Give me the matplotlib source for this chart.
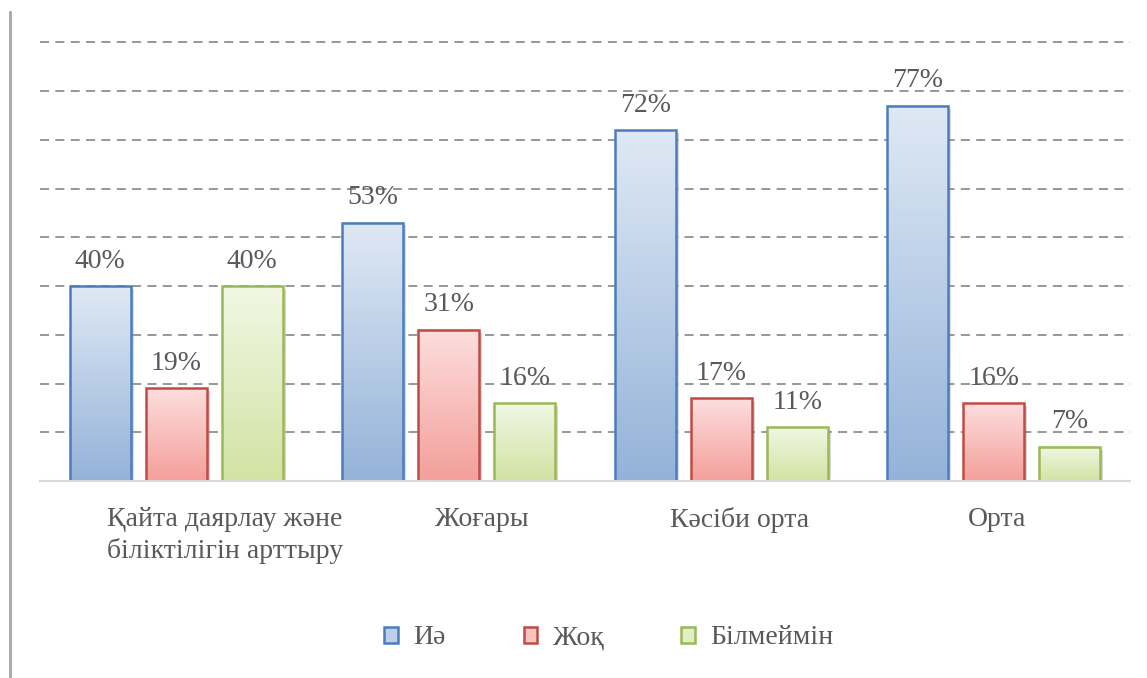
import matplotlib.pyplot as plt
import matplotlib.patheffects as pe
from matplotlib.colors import LinearSegmentedColormap
from matplotlib.lines import Line2D
from matplotlib.patches import Patch
import numpy as np

plt.rcParams['font.family'] = ['Liberation Serif', 'DejaVu Serif']

categories = ["Қайта даярлау және\nбіліктілігін арттыру", "Жоғары", "Кәсіби орта", "Орта"]
series_names = ["Иә", "Жоқ", "Білмеймін"]
yes_vals = [40, 53, 72, 77]
no_vals = [19, 31, 17, 16]
dont_know_vals = [40, 16, 11, 7]

# (top colour, bottom colour, edge colour)
styles = [
    ("#dfe9f5", "#94b2d9", "#4a7ebb"),
    ("#fcdedd", "#f49f9b", "#be4b48"),
    ("#f1f7e4", "#d2e3a3", "#98b954"),
]
text_col = "#595959"

fig = plt.figure(figsize=(11.47, 6.78), dpi=100)
ax = fig.add_axes([40 / 1147, 197 / 678, 1090 / 1147, 463 / 678])

x = np.arange(len(categories))
width = 0.224
step = 0.279
grad = np.linspace(0, 1, 256).reshape(-1, 1)

cmaps = []
for k, vals in enumerate([yes_vals, no_vals, dont_know_vals]):
    top, bottom, edge = styles[k]
    cmap = LinearSegmentedColormap.from_list(f"g{k}", [bottom, top])
    cmaps.append(cmap)
    xs = x + (k - 1) * step
    ax.bar(xs, vals, width, color="white", edgecolor="none", zorder=2,
           path_effects=[pe.SimplePatchShadow(offset=(2, -2), shadow_rgbFace="gray", alpha=0.3), pe.Normal()])
    for xi, v in zip(xs, vals):
        ax.imshow(grad, cmap=cmap, origin="lower", aspect="auto", zorder=3,
                  extent=(xi - width / 2, xi + width / 2, 0, v))
        ax.annotate(f"{v}%", (xi, v), xytext=(0, 9), textcoords="offset points",
                    ha="center", va="bottom", fontsize=20, color=text_col)
    ax.bar(xs, vals, width, facecolor="none", edgecolor=edge, linewidth=1.8, zorder=4)

ax.set_xlim(-0.5, 3.5)
ax.set_ylim(0, 95)
ax.set_yticks(range(10, 100, 10))
ax.yaxis.grid(True, linestyle=(0, (5, 3.5)), color="#8f8f8f", linewidth=1.3, zorder=0)
ax.set_axisbelow(True)
ax.tick_params(axis="y", left=False, labelleft=False)

label_x = 0.179 + 0.944 * x
ax.set_xticks(label_x)
ax.set_xticklabels(categories, fontsize=20, color=text_col, linespacing=1.3)
ax.tick_params(axis="x", bottom=False, pad=15)

for s in ["top", "right", "left"]:
    ax.spines[s].set_visible(False)
ax.spines["bottom"].set_color("#d9d9d9")
ax.spines["bottom"].set_linewidth(1.5)
ax.spines["bottom"].set_zorder(5)

handles = [Patch(facecolor=cmaps[i](0.55), edgecolor=s[2], linewidth=1.8) for i, s in enumerate(styles)]
fig.legend(handles, series_names, loc="center", bbox_to_anchor=(609 / 1147, 1 - 638 / 678),
           ncol=3, frameon=False, fontsize=20, handlelength=0.5, handleheight=0.5,
           handletextpad=0.55, columnspacing=2.8, labelcolor=text_col)

fig.add_artist(Line2D([10 / 1147, 10 / 1147], [0, 1 - 12 / 678], color="#a6a6a6", linewidth=2))

fig.savefig("out.png", dpi=100)
